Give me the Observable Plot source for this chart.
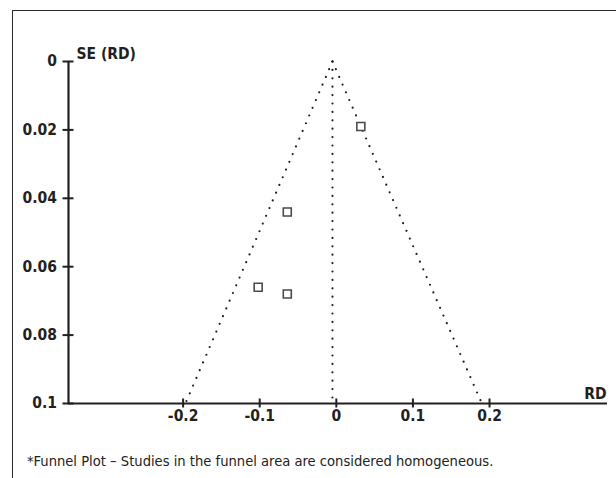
<!DOCTYPE html>
<html>
<head>
<meta charset="utf-8">
<script src="https://cdn.jsdelivr.net/npm/d3@7"></script>
<script src="https://cdn.jsdelivr.net/npm/@observablehq/plot@0.6"></script>
<style>
  html, body { margin: 0; padding: 0; background: #fff; overflow: hidden; width: 616px; height: 478px; }
  #frame { position: absolute; left: 12px; top: 10px; width: 800px; height: 600px;
           border-left: 1.6px solid #2a2a2a; border-top: 1.6px solid #2a2a2a; }
  #chart { position: absolute; left: 0; top: 0; }
  #chart svg text { font-stretch: condensed; }
  #caption { position: absolute; left: 27px; top: 452px; font-family: "DejaVu Sans Condensed", "DejaVu Sans", sans-serif;
             font-stretch: condensed; font-size: 14.6px; color: #222; white-space: nowrap; }
</style>
</head>
<body>
<div id="frame"></div>
<div id="chart"></div>
<div id="caption">*Funnel Plot – Studies in the funnel area are considered homogeneous.</div>
<script>
// Studies: risk difference (RD) and its standard error
const studyRD = [0.032, -0.064, -0.102, -0.064];
const studySE = [0.019, 0.044, 0.066, 0.068];

// Funnel (pooled estimate and 95% limits)
const funnelSE = [0, 0.1];
const funnelLower = [-0.005, -0.197];
const funnelUpper = [-0.005, 0.19];
const pooledRD = -0.005;

// Axes
const xTicks = [-0.2, -0.1, 0, 0.1, 0.2];
const xTickLabels = ["-0.2", "-0.1", "0", "0.1", "0.2"];
const yTicks = [0, 0.02, 0.04, 0.06, 0.08, 0.1];
const yTickLabels = ["0", "0.02", "0.04", "0.06", "0.08", "0.1"];
const xDomain = [-0.3496, 0.354];
const yDomain = [0, 0.1];

const studies = studyRD.map((rd, i) => ({rd, se: studySE[i]}));
const lower = funnelSE.map((se, i) => ({rd: funnelLower[i], se}));
const upper = funnelSE.map((se, i) => ({rd: funnelUpper[i], se}));
const center = funnelSE.map(se => ({rd: pooledRD, se}));

const font = '"DejaVu Sans Condensed", "DejaVu Sans", sans-serif';
const ink = "#231f20";
const dotted = {stroke: ink, strokeWidth: 2.2, strokeDasharray: "0,8.4", strokeLinecap: "round"};

const chart = Plot.plot({
  width: 616,
  height: 440,
  marginLeft: 68,
  marginRight: 9,
  marginTop: 61,
  marginBottom: 37,
  style: {fontFamily: font, fontSize: "15.5px", fontWeight: "bold", color: ink, background: "transparent"},
  x: {domain: xDomain, axis: null},
  y: {domain: yDomain, reverse: true, axis: null},
  marks: [
    Plot.line(lower, {x: "rd", y: "se", ...dotted}),
    Plot.line(upper, {x: "rd", y: "se", ...dotted}),
    Plot.line(center, {x: "rd", y: "se", ...dotted}),
    Plot.ruleX([xDomain[0]], {y1: yDomain[0], y2: yDomain[1], stroke: ink, strokeWidth: 2.2}),
    Plot.ruleY([yDomain[1]], {x1: xDomain[0], x2: xDomain[1], stroke: ink, strokeWidth: 2.2}),
    Plot.axisY({ticks: yTicks, tickFormat: d => yTickLabels[yTicks.indexOf(d)], tickSize: 11, dx: 5.5, tickPadding: 6,
                strokeWidth: 2, stroke: ink, label: null, fill: ink}),
    Plot.axisX({ticks: xTicks, tickFormat: d => xTickLabels[xTicks.indexOf(d)], tickSize: 9, dy: -4.5, tickPadding: 1.5,
                anchor: "bottom", strokeWidth: 2, stroke: ink, label: null, fill: ink}),
    Plot.dot(studies, {x: "rd", y: "se", symbol: "square", r: 4.5, stroke: "#4a4a4a", strokeWidth: 1.6, fill: "white"}),
    Plot.text(["SE (RD)"], {frameAnchor: "top-left", textAnchor: "start", lineAnchor: "bottom", dx: 8, dy: -3, fill: ink}),
    Plot.text(["RD"], {frameAnchor: "bottom-right", textAnchor: "end", lineAnchor: "bottom", dx: -1, dy: -5, fill: ink})
  ]
});
document.getElementById("chart").appendChild(chart);
</script>
</body>
</html>
